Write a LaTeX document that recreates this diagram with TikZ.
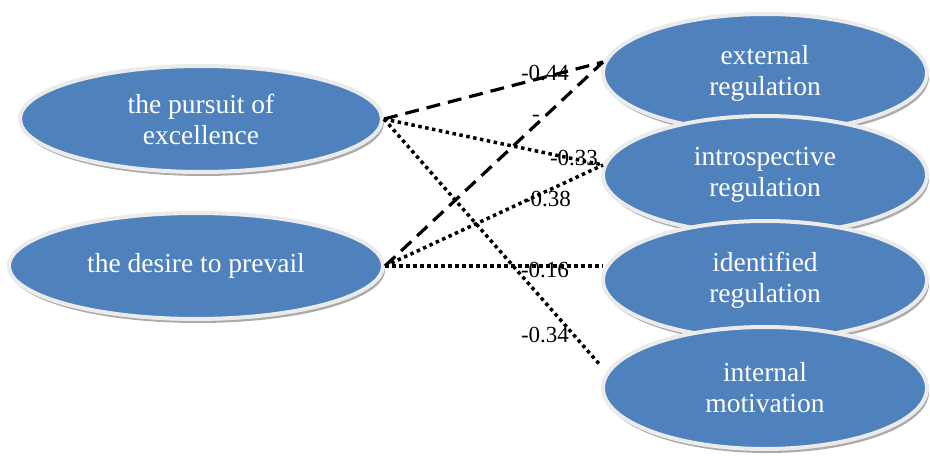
\documentclass[tikz,border=0pt]{standalone}
\usepackage{fontspec}
\setmainfont{Liberation Serif}
\usetikzlibrary{shapes.geometric,shadows}
\definecolor{ovalblue}{HTML}{4F81BD}
\definecolor{ovalrim}{HTML}{EBEBEB}
\tikzset{
  oval/.style={ellipse, fill=ovalblue, draw=ovalrim, line width=4pt, inner sep=0pt,
    text=white, align=center, font=\fontsize{27.5}{31}\selectfont,
    drop shadow={shadow xshift=2pt, shadow yshift=-4pt, fill=black!55, opacity=0.6}},
  dashlink/.style={line width=3.2pt, dash pattern=on 14pt off 8pt},
  dotlink/.style={line width=3.5pt, dash pattern=on 3.5pt off 3.5pt},
  coef/.style={font=\fontsize{23}{26}\selectfont, text=black, inner sep=0pt}
}
\begin{document}
\begin{tikzpicture}[x=1pt,y=-1pt]
\useasboundingbox[fill=white] (0,0) rectangle (930,460);
% left ovals
\node[oval, minimum width=362pt, minimum height=106pt] (pe) at (201,119) {the pursuit of\\excellence};
\node[oval, minimum width=374pt, minimum height=106pt] (dp) at (196,266) {the desire to prevail};
% right ovals
\node[oval, minimum width=324pt, minimum height=118pt] (er) at (765,73) {external\\regulation};
\node[oval, minimum width=324pt, minimum height=118pt] (ir) at (765,175) {introspective\\regulation};
\node[oval, minimum width=324pt, minimum height=118pt] (dr) at (765,280) {identified\\regulation};
\node[oval, minimum width=324pt, minimum height=122pt] (im) at (765,388) {internal\\motivation};
% connector ends on the right ovals
\coordinate (erL) at (603,62);
\coordinate (irL) at (603,165);
\coordinate (drL) at (603,266);
\coordinate (imL) at (601,366);
% connectors
\draw[dashlink] (pe.east) -- (erL);
\draw[dashlink] (dp.east) -- (erL);
\draw[dotlink] (pe.east) -- (irL);
\draw[dotlink] (pe.east) -- (imL);
\draw[dotlink] (dp.east) -- (irL);
\draw[dotlink] (dp.east) -- (drL);
% coefficients
\node[coef] (c1) at (545,73) {-0.44};
\node[coef] (c0) at (536,118) {-};
\node[coef] (c2) at (574,158) {-0.33};
\node[coef] (c3) at (547,199) {-0.38};
\node[coef] (c4) at (545,270) {-0.16};
\node[coef] (c5) at (545,335) {-0.34};
\end{tikzpicture}
\end{document}
